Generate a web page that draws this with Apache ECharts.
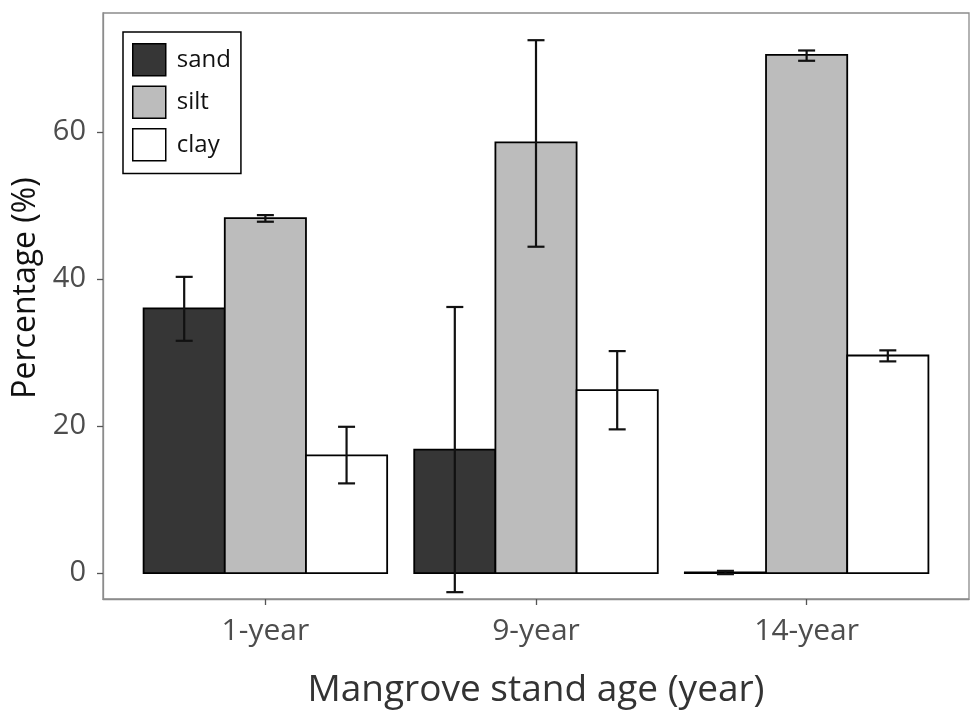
<!DOCTYPE html>
<html>
<head>
<meta charset="utf-8">
<script src="https://cdn.jsdelivr.net/npm/echarts@6/dist/echarts.min.js"></script>
<style>
html,body{margin:0;padding:0;background:#fff;}
#chart{width:970px;height:714px;}
</style>
</head>
<body>
<div id="chart"></div>
<script>
// ---- data ----
const categories = ['1-year', '9-year', '14-year'];
const seriesNames = ['sand', 'silt', 'clay'];
const sand = [36.0, 16.8, 0.1];
const silt = [48.3, 58.6, 70.5];
const clay = [16.0, 24.9, 29.6];
const sandLow = [31.6, -2.6, -0.15];
const sandHigh = [40.3, 36.2, 0.3];
const siltLow = [47.8, 44.4, 69.7];
const siltHigh = [48.7, 72.5, 71.1];
const clayLow = [12.2, 19.55, 28.8];
const clayHigh = [19.9, 30.2, 30.3];
const yTicks = [0, 20, 40, 60];
const xTickPositions = [1, 2, 3];

// ---- styling ----
const FONT = 'Open Sans';
const colors = {sand: '#363636', silt: '#bcbcbc', clay: '#ffffff'};
const dodge = {sand: -0.3, silt: 0, clay: 0.3};
const barHalf = 0.15;
const values = {sand: sand, silt: silt, clay: clay};
const lows = {sand: sandLow, silt: siltLow, clay: clayLow};
const highs = {sand: sandHigh, silt: siltHigh, clay: clayHigh};

function barSeries(name) {
  return {
    name: name,
    type: 'custom',
    itemStyle: {color: colors[name], borderColor: '#000', borderWidth: 1.8},
    data: categories.map((c, i) => [i + 1, values[name][i]]),
    renderItem: function (params, api) {
      const x = api.value(0) + dodge[name];
      const y = api.value(1);
      const p0 = api.coord([x - barHalf, 0]);
      const p1 = api.coord([x + barHalf, y]);
      return {
        type: 'rect',
        shape: {x: p0[0], y: Math.min(p0[1], p1[1]), width: p1[0] - p0[0], height: Math.abs(p0[1] - p1[1])},
        style: {fill: colors[name], stroke: '#000', lineWidth: 1.8}
      };
    },
    z: 2
  };
}

const errData = [];
seriesNames.forEach(n => {
  categories.forEach((c, i) => {
    errData.push([i + 1 + dodge[n], lows[n][i], highs[n][i]]);
  });
});

const errSeries = {
  name: 'err',
  type: 'custom',
  data: errData,
  z: 5,
  renderItem: function (params, api) {
    const x = api.value(0);
    const lo = api.coord([x, api.value(1)]);
    const hi = api.coord([x, api.value(2)]);
    const cap = 8.5;
    const st = {stroke: '#111', lineWidth: 2.2, fill: null};
    return {
      type: 'group',
      children: [
        {type: 'line', shape: {x1: lo[0], y1: lo[1], x2: hi[0], y2: hi[1]}, style: st},
        {type: 'line', shape: {x1: lo[0] - cap, y1: lo[1], x2: lo[0] + cap, y2: lo[1]}, style: st},
        {type: 'line', shape: {x1: hi[0] - cap, y1: hi[1], x2: hi[0] + cap, y2: hi[1]}, style: st}
      ]
    };
  }
};

const chart = echarts.init(document.getElementById('chart'), null, {renderer: 'canvas'});
chart.setOption({
  animation: false,
  backgroundColor: '#fff',
  grid: {left: 103, right: 1, top: 13, bottom: 114, show: true, borderColor: '#8c8c8c', borderWidth: 1.3, containLabel: false},
  legend: {
    orient: 'vertical',
    left: 123,
    top: 32,
    padding: [11, 10, 12, 9],
    borderColor: '#000',
    borderWidth: 1.5,
    itemWidth: 33,
    itemHeight: 32,
    itemGap: 9,
    icon: 'rect',
    textStyle: {fontFamily: FONT, fontSize: 24, color: '#111', padding: [0, 0, 0, 6]},
    data: seriesNames.map(n => ({name: n, icon: 'rect', itemStyle: {color: colors[n], borderColor: '#000', borderWidth: 1.5}}))
  },
  xAxis: {
    type: 'value',
    min: 0.4,
    max: 3.6,
    name: 'Mangrove stand age (year)',
    nameLocation: 'middle',
    nameGap: 73,
    nameTextStyle: {fontFamily: FONT, fontSize: 37, color: '#333'},
    axisLine: {show: true, onZero: false, lineStyle: {color: '#8c8c8c', width: 1.3}},
    axisTick: {show: true, length: 6, customValues: xTickPositions, lineStyle: {color: '#555', width: 1.3}},
    axisLabel: {customValues: xTickPositions, margin: 17, fontFamily: FONT, fontSize: 30, color: '#4d4d4d',
      formatter: v => categories[Math.round(v) - 1]},
    splitLine: {show: false}
  },
  yAxis: {
    type: 'value',
    min: -3.53,
    max: 76.2,
    name: 'Percentage (%)',
    nameLocation: 'middle',
    nameGap: 56,
    nameRotate: 90,
    nameTextStyle: {fontFamily: FONT, fontSize: 32, color: '#111', padding: [0, 0, 0, 36]},
    axisLine: {show: true, onZero: false, lineStyle: {color: '#8c8c8c', width: 1.3}},
    axisTick: {show: true, length: 6, customValues: yTicks, lineStyle: {color: '#555', width: 1.3}},
    axisLabel: {customValues: yTicks, margin: 17, fontFamily: FONT, fontSize: 29, color: '#4d4d4d'},
    splitLine: {show: false}
  },
  series: [barSeries('sand'), barSeries('silt'), barSeries('clay'), errSeries]
});
</script>
</body>
</html>
